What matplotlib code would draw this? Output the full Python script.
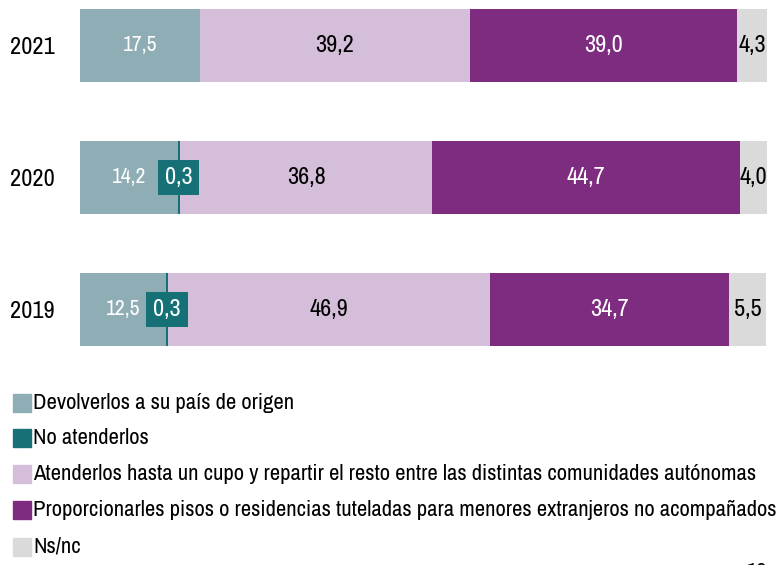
import matplotlib.pyplot as plt
from matplotlib.patches import Rectangle
import numpy as np

plt.rcParams['font.family'] = ['Archivo Narrow', 'Fira Sans Condensed', 'DejaVu Sans']

# Data
years = ["2021", "2020", "2019"]
categories = [
    "Devolverlos a su país de origen",
    "No atenderlos",
    "Atenderlos hasta un cupo y repartir el resto entre las distintas comunidades autónomas",
    "Proporcionarles pisos o residencias tuteladas para menores extranjeros no acompañados",
    "Ns/nc",
]
devolver = [17.5, 14.2, 12.5]
no_atender = [np.nan, 0.3, 0.3]
cupo = [39.2, 36.8, 46.9]
pisos = [39.0, 44.7, 34.7]
nsnc = [4.3, 4.0, 5.5]

series = [devolver, no_atender, cupo, pisos, nsnc]
colors = ["#8FADB5", "#167177", "#D4BED9", "#7E2C80", "#DADADA"]
text_colors = ["white", "white", "black", "white", "black"]
text_sizes = [15.5, 17.5, 17.5, 17.5, 17.5]

fig = plt.figure(figsize=(7.79, 5.65), dpi=100)
W, H = 779, 565
ax = fig.add_axes([80 / W, 1 - 346 / H, 687 / W, 337 / H])

ypos = [2, 1, 0]
h = 73 / 132
left = np.zeros(len(years))
for vals, color, tc, ts in zip(series, colors, text_colors, text_sizes):
    v = np.nan_to_num(np.array(vals, dtype=float))
    ax.barh(ypos, v, left=left, height=h, color=color, edgecolor="none")
    for y, val, l in zip(ypos, vals, left):
        if np.isnan(val):
            continue
        label = f"{val:.1f}".replace(".", ",")
        cx = l + val / 2
        if val < 1:
            ax.text(cx, y, label, ha="center", va="center", color="white",
                    fontsize=ts,
                    bbox=dict(boxstyle="square,pad=0.28", fc=color, ec="none"))
        else:
            ax.text(cx, y, label, ha="center", va="center", color=tc, fontsize=ts)
    left = left + v

ax.set_xlim(0, 100)
ax.set_ylim(-h / 2, 2 + h / 2)
ax.set_yticks(ypos)
ax.set_yticklabels(years, fontsize=17.5)
ax.tick_params(axis="y", length=0, pad=18)
ax.set_xticks([])
for s in ax.spines.values():
    s.set_visible(False)

# Legend
rows_y = [403, 438, 474, 510, 547]
for cat, color, ry in zip(categories, colors, rows_y):
    fig.add_artist(Rectangle((13 / W, 1 - (ry + 9) / H), 18 / W, 18 / H,
                             transform=fig.transFigure, color=color))
    fig.text(33 / W, 1 - ry / H, cat, fontsize=16.3, va="center", ha="left")

# page number (cut off at the bottom)
fig.text(757 / W, -7 / H, "19", fontsize=16.3, ha="center", va="center")

plt.savefig("out.png", dpi=100)
